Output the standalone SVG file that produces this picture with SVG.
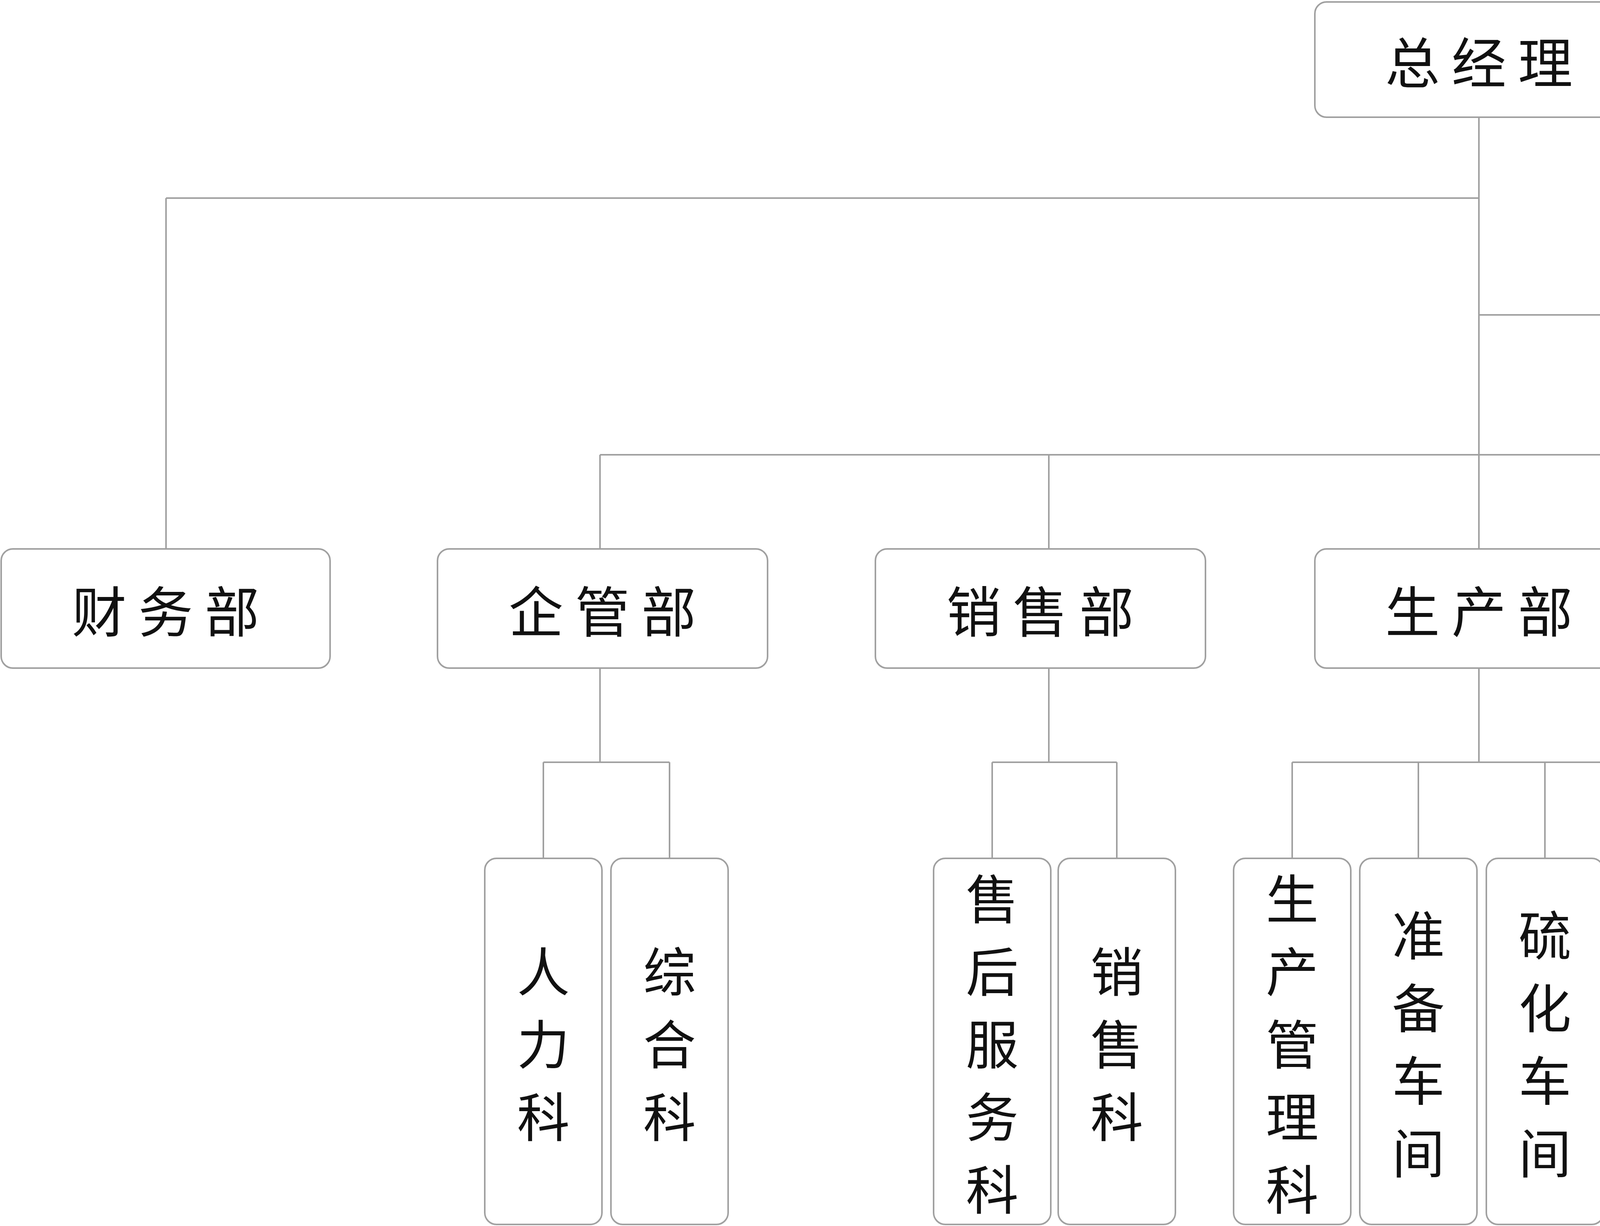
<svg xmlns="http://www.w3.org/2000/svg" width="7572" height="3138" viewBox="0 0 7572 3138">
<style>
.b{fill:#fff;stroke:#a0a0a0;stroke-width:4}
.t{font-family:"Noto Sans CJK SC",sans-serif;font-size:140px;fill:#111;text-anchor:middle;dominant-baseline:central;letter-spacing:30px}
.v{font-family:"Noto Sans CJK SC",sans-serif;font-size:135px;fill:#111;text-anchor:middle;dominant-baseline:central}
#c path{fill:none;stroke:#a0a0a0;stroke-width:4}
</style>
<rect width="7572" height="3138" fill="#fff"/>
<g id="c"><path d="M3786 300V1164M425 507H3786M425 507V1405M3786 806H4235M1536 1164H7137M1536 1164V1405M2685 1164V1405M4911 1164V1405M6027 1164V1405M7137 1164V1405M3786 1164V1405
M1536 1710V1951M1391 1951H1714M1391 1951V2197M1714 1951V2197
M2685 1710V1951M2540 1951H2859M2540 1951V2197M2859 1951V2197
M3786 1710V1951M3308 1951H4940M3308 1951V2197M3631 1951V2197M3955 1951V2197M4283 1951V2197M4612 1951V2197M4940 1951V2197
M6027 1710V1951M5544 1951H6519M5544 1951V2197M5867 1951V2197M6196 1951V2197M6519 1951V2197
M7137 1710V1951M6983 1951H7306M6983 1951V2197M7306 1951V2197"/></g>
<g id="n0"><rect class="b" x="3366" y="5" width="840" height="295" rx="30"/><text class="t" x="3801" y="152">总经理</text></g>
<g id="n1"><rect class="b" x="4235" y="657" width="850" height="299" rx="30"/><text class="t" x="4675" y="806">副总经理</text></g>
<g id="d1"><rect class="b" x="3" y="1405" width="842" height="305" rx="30"/><text class="t" x="439" y="1557">财务部</text></g>
<g id="d2"><rect class="b" x="1120" y="1405" width="845" height="305" rx="30"/><text class="t" x="1557" y="1557">企管部</text></g>
<g id="d3"><rect class="b" x="2241" y="1405" width="845" height="305" rx="30"/><text class="t" x="2678" y="1557">销售部</text></g>
<g id="d4"><rect class="b" x="3366" y="1405" width="840" height="305" rx="30"/><text class="t" x="3801" y="1557">生产部</text></g>
<g id="d5"><rect class="b" x="4481" y="1405" width="846" height="305" rx="30"/><text class="t" x="4919" y="1557">采购部</text></g>
<g id="d6"><rect class="b" x="5602" y="1405" width="845" height="305" rx="30"/><text class="t" x="6039" y="1557">技术部</text></g>
<g id="d7"><rect class="b" x="6722" y="1405" width="845" height="305" rx="30"/><text class="t" x="7159" y="1557">质量部</text></g>
<g id="s1"><rect class="b" x="1241" y="2197" width="300" height="937" rx="30"/><text class="v" x="1391" y="2665"><tspan x="1391" dy="-186">人</tspan><tspan x="1391" dy="186">力</tspan><tspan x="1391" dy="186">科</tspan></text></g>
<g id="s2"><rect class="b" x="1564" y="2197" width="300" height="937" rx="30"/><text class="v" x="1714" y="2665"><tspan x="1714" dy="-186">综</tspan><tspan x="1714" dy="186">合</tspan><tspan x="1714" dy="186">科</tspan></text></g>
<g id="s3"><rect class="b" x="2390" y="2197" width="300" height="937" rx="30"/><text class="v" x="2540" y="2665"><tspan x="2540" dy="-372">售</tspan><tspan x="2540" dy="186">后</tspan><tspan x="2540" dy="186">服</tspan><tspan x="2540" dy="186">务</tspan><tspan x="2540" dy="186">科</tspan></text></g>
<g id="s4"><rect class="b" x="2709" y="2197" width="300" height="937" rx="30"/><text class="v" x="2859" y="2665"><tspan x="2859" dy="-186">销</tspan><tspan x="2859" dy="186">售</tspan><tspan x="2859" dy="186">科</tspan></text></g>
<g id="s5"><rect class="b" x="3158" y="2197" width="300" height="937" rx="30"/><text class="v" x="3308" y="2665"><tspan x="3308" dy="-372">生</tspan><tspan x="3308" dy="186">产</tspan><tspan x="3308" dy="186">管</tspan><tspan x="3308" dy="186">理</tspan><tspan x="3308" dy="186">科</tspan></text></g>
<g id="s6"><rect class="b" x="3481" y="2197" width="300" height="937" rx="30"/><text class="v" x="3631" y="2665"><tspan x="3631" dy="-279">准</tspan><tspan x="3631" dy="186">备</tspan><tspan x="3631" dy="186">车</tspan><tspan x="3631" dy="186">间</tspan></text></g>
<g id="s7"><rect class="b" x="3805" y="2197" width="300" height="937" rx="30"/><text class="v" x="3955" y="2665"><tspan x="3955" dy="-279">硫</tspan><tspan x="3955" dy="186">化</tspan><tspan x="3955" dy="186">车</tspan><tspan x="3955" dy="186">间</tspan></text></g>
<g id="s8"><rect class="b" x="4133" y="2197" width="300" height="937" rx="30"/><text class="v" x="4283" y="2665"><tspan x="4283" dy="-279">修</tspan><tspan x="4283" dy="186">检</tspan><tspan x="4283" dy="186">车</tspan><tspan x="4283" dy="186">间</tspan></text></g>
<g id="s9"><rect class="b" x="4462" y="2197" width="300" height="937" rx="30"/><text class="v" x="4612" y="2665"><tspan x="4612" dy="-186">设</tspan><tspan x="4612" dy="186">备</tspan><tspan x="4612" dy="186">科</tspan></text></g>
<g id="s10"><rect class="b" x="4790" y="2197" width="300" height="937" rx="30"/><text class="v" x="4940" y="2665"><tspan x="4940" dy="-279">冲</tspan><tspan x="4940" dy="186">压</tspan><tspan x="4940" dy="186">车</tspan><tspan x="4940" dy="186">间</tspan></text></g>
<g id="s11"><rect class="b" x="5394" y="2197" width="300" height="937" rx="30"/><text class="v" x="5544" y="2665"><tspan x="5544" dy="-186">设</tspan><tspan x="5544" dy="186">计</tspan><tspan x="5544" dy="186">科</tspan></text></g>
<g id="s12"><rect class="b" x="5717" y="2197" width="300" height="937" rx="30"/><text class="v" x="5867" y="2665"><tspan x="5867" dy="-279">制</tspan><tspan x="5867" dy="186">模</tspan><tspan x="5867" dy="186">车</tspan><tspan x="5867" dy="186">间</tspan></text></g>
<g id="s13"><rect class="b" x="6046" y="2197" width="300" height="937" rx="30"/><text class="v" x="6196" y="2665"><tspan x="6196" dy="-186">工</tspan><tspan x="6196" dy="186">艺</tspan><tspan x="6196" dy="186">科</tspan></text></g>
<g id="s14"><rect class="b" x="6369" y="2197" width="300" height="937" rx="30"/><text class="v" x="6519" y="2665"><tspan x="6519" dy="-186">实</tspan><tspan x="6519" dy="186">验</tspan><tspan x="6519" dy="186">室</tspan></text></g>
<g id="s15"><rect class="b" x="6833" y="2197" width="300" height="937" rx="30"/><text class="v" x="6983" y="2665"><tspan x="6983" dy="-372">质</tspan><tspan x="6983" dy="186">量</tspan><tspan x="6983" dy="186">保</tspan><tspan x="6983" dy="186">证</tspan><tspan x="6983" dy="186">科</tspan></text></g>
<g id="s16"><rect class="b" x="7156" y="2197" width="300" height="937" rx="30"/><text class="v" x="7306" y="2665"><tspan x="7306" dy="-372">质</tspan><tspan x="7306" dy="186">量</tspan><tspan x="7306" dy="186">体</tspan><tspan x="7306" dy="186">系</tspan><tspan x="7306" dy="186">科</tspan></text></g>
</svg>
